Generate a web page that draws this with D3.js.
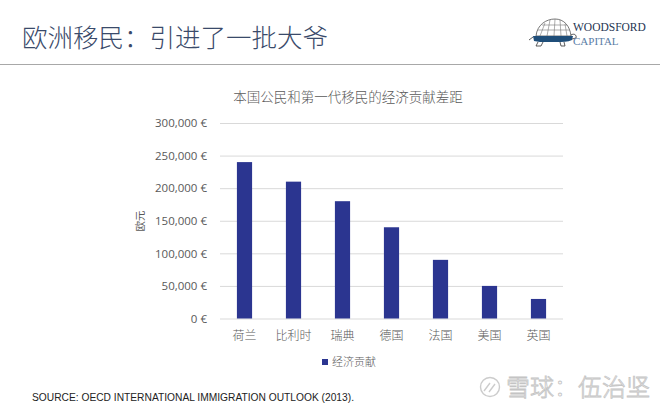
<!DOCTYPE html>
<html><head><meta charset="utf-8">
<script src="https://cdn.jsdelivr.net/npm/d3@7"></script>
<style>
html,body{margin:0;padding:0;background:#fff;}
svg{display:block;}
</style></head>
<body>
<svg id="c" width="660" height="409"></svg>
<script>
const categories = ["荷兰","比利时","瑞典","德国","法国","美国","英国"];
const values = [240000,210000,180000,140000,90000,50000,30000];
const yTicks = [0,50000,100000,150000,200000,250000,300000];
const seriesName = "经济贡献";
const pageTitle = "欧洲移民：引进了一批大爷";
const chartTitle = "本国公民和第一代移民的经济贡献差距";
const yTitle = "欧元";
const sourceText = "SOURCE: OECD INTERNATIONAL IMMIGRATION OUTLOOK (2013).";

const svg = d3.select("#c");
const cjk = "'Microsoft YaHei','Noto Sans CJK SC',sans-serif";

// page header
svg.append("text").attr("x",22).attr("y",47).attr("font-family",cjk).attr("font-weight",300)
  .attr("font-size",25.5).attr("fill","#3a4a6a").text(pageTitle);
svg.append("line").attr("x1",0).attr("x2",660).attr("y1",64.5).attr("y2",64.5)
  .attr("stroke","#a8a8a8").attr("stroke-width",1.2);

// logo (turtle)
const lg = svg.append("g").attr("transform","translate(528,16)");
lg.append("path").attr("d","M8,20 C9,9 18,3 27,3 C36,3 42,10 43,20 Z").attr("fill","#fff").attr("stroke","#555").attr("stroke-width",0.8);
lg.append("path").attr("d","M12,20 L17,7 M19,20 L22,4 M26,20 L27,3 M33,20 L32,4 M39,20 L37,8 M10,14 L42,14 M14,9 L39,9").attr("stroke","#777").attr("stroke-width",0.6).attr("fill","none");
lg.append("path").attr("d","M5,20 L45,20 L44,24 C40,26 34,26 28,26 L12,26 L6,25 Z").attr("fill","#1f4e79");
lg.append("path").attr("d","M10,26 L8,30 L13,30 L15,26 M32,26 L33,30 L37,30 L36,26").attr("fill","none").attr("stroke","#333").attr("stroke-width",0.8);
lg.append("path").attr("d","M43,19 C46,17 49,19 48,22 L44,23").attr("fill","none").attr("stroke","#333").attr("stroke-width",0.8);
lg.append("path").attr("d","M5,21 L1,24").attr("stroke","#333").attr("stroke-width",0.8);
svg.append("text").attr("x",573).attr("y",31).attr("font-family","'Liberation Serif','DejaVu Serif',serif")
  .attr("font-size",11.5).attr("fill","#1e3552").text("WOODSFORD");
svg.append("text").attr("x",573).attr("y",45).attr("font-family","'Liberation Serif','DejaVu Serif',serif")
  .attr("font-size",11).attr("fill","#5a7da6").text("CAPITAL");

// chart
const x = d3.scaleBand().domain(categories).range([220,563]).paddingInner(0.69).paddingOuter(0.345);
const y = d3.scaleLinear().domain([0,300000]).range([318.5,123]);

svg.append("text").attr("x",348).attr("y",102).attr("text-anchor","middle")
  .attr("font-family",cjk).attr("font-weight",300).attr("font-size",13.5).attr("fill","#595959").text(chartTitle);

const yAxis = d3.axisLeft(y).tickValues(yTicks).tickSize(-343).tickPadding(13)
  .tickFormat(d => d3.format(",")(d) + " €");
const ga = svg.append("g").attr("transform","translate(220,0)").call(yAxis);
ga.select(".domain").remove();
ga.selectAll(".tick line").attr("stroke","#d9d9d9").attr("stroke-width",1);
ga.selectAll(".tick text").attr("font-family","'Open Sans','Segoe UI',sans-serif")
  .attr("font-size",11.5).attr("fill","#595959");

svg.append("text").attr("transform","translate(144,221) rotate(-90)").attr("text-anchor","middle")
  .attr("font-family",cjk).attr("font-size",10.5).attr("fill","#595959").text(yTitle);

svg.selectAll("rect.bar").data(values).enter().append("rect").attr("class","bar")
  .attr("x",(d,i)=>x(categories[i])).attr("width",x.bandwidth())
  .attr("y",d=>y(d)).attr("height",d=>y(0)-y(d)).attr("fill","#2b3590");

const xAxis = d3.axisBottom(x).tickSize(0).tickPadding(13);
const gx = svg.append("g").attr("transform",`translate(0,${y(0)})`).call(xAxis);
gx.select(".domain").remove();
gx.selectAll(".tick text").attr("font-family",cjk).attr("font-weight",300).attr("font-size",12).attr("fill","#595959");

// legend
svg.append("rect").attr("x",322).attr("y",359).attr("width",6).attr("height",6).attr("fill","#2b3590");
svg.append("text").attr("x",332).attr("y",366).attr("font-family",cjk).attr("font-weight",300).attr("font-size",11)
  .attr("fill","#595959").text(seriesName);

// source
svg.append("text").attr("x",32).attr("y",401).attr("font-family","'Liberation Sans Narrow','Liberation Sans',Arial,sans-serif")
  .attr("font-size",10).attr("fill","#222").attr("textLength",322).attr("lengthAdjust","spacingAndGlyphs").text(sourceText);

// watermark
const wm = svg.append("g");
wm.append("circle").attr("cx",490).attr("cy",387).attr("r",9.5).attr("fill","none").attr("stroke","#cccccc").attr("stroke-width",1.4);
wm.append("path").attr("d","M484,391 L490,383 M489,392 L495,384").attr("stroke","#cccccc").attr("stroke-width",1.4).attr("fill","none");
wm.append("text").attr("x",506).attr("y",396).attr("font-family",cjk).attr("font-weight",300).attr("font-size",24)
  .attr("textLength",144).attr("lengthAdjust","spacingAndGlyphs")
  .attr("fill","#fbfbfb").attr("stroke","#c4c4c4").attr("stroke-width",0.8).text("雪球：伍治坚");
</script>
</body></html>
